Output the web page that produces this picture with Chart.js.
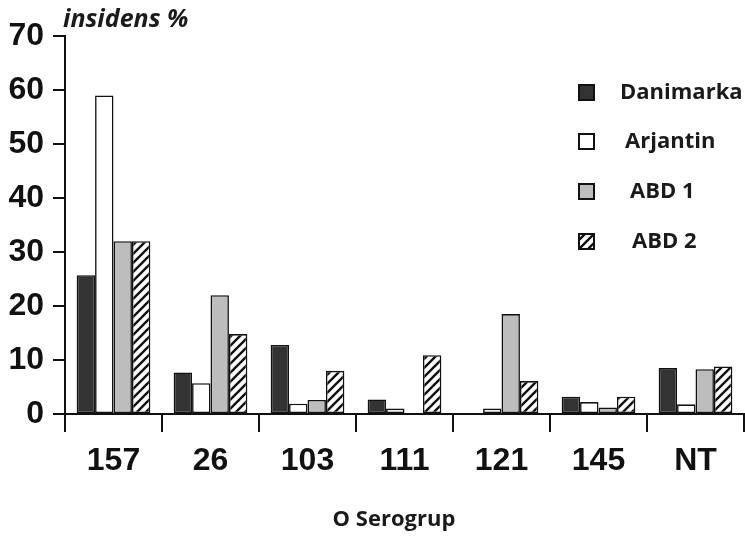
<!DOCTYPE html>
<html>
<head>
<meta charset="utf-8">
<script src="https://cdn.jsdelivr.net/npm/chart.js@4.4.1/dist/chart.umd.min.js"></script>
<style>
  html, body { margin: 0; padding: 0; background: #fff; }
  #wrap { width: 745px; height: 537px; position: relative; }
</style>
</head>
<body>
<div id="wrap"><canvas id="c" width="745" height="537"></canvas></div>
<script>
const categories = ["157", "26", "103", "111", "121", "145", "NT"];
const seriesNames = ["Danimarka", "Arjantin", "ABD 1", "ABD 2"];
const danimarka = [25.7, 7.7, 12.8, 2.7, 0, 3.2, 8.5];
const arjantin  = [59, 5.7, 1.9, 1.0, 1.0, 2.2, 1.8];
const abd1      = [32, 22, 2.6, 0, 18.5, 1.2, 8.3];
const abd2      = [32, 14.8, 8.0, 10.9, 6.1, 3.2, 8.8];
const yTicks    = [0, 10, 20, 30, 40, 50, 60, 70];
const yTitle = "insidens %";
const xTitle = "O Serogrup";

function hatch() {
  const s = 9;
  const p = document.createElement('canvas');
  p.width = s; p.height = s;
  const g = p.getContext('2d');
  g.fillStyle = '#fff'; g.fillRect(0, 0, s, s);
  g.strokeStyle = '#111'; g.lineWidth = 2.4;
  g.beginPath();
  g.moveTo(-2, s + 2); g.lineTo(s + 2, -2);
  g.moveTo(-2, 2); g.lineTo(2, -2);
  g.moveTo(s - 2, s + 2); g.lineTo(s + 2, s - 2);
  g.stroke();
  return g.createPattern(p, 'repeat');
}
const ctx = document.getElementById('c').getContext('2d');
const fills = ['#333333', '#ffffff', '#bdbdbd', hatch()];
const values = [danimarka, arjantin, abd1, abd2];

const legendPlugin = {
  id: 'manualLegend',
  afterDraw(chart) {
    const c = chart.ctx;
    const ys = [93, 142, 192, 242];
    const tx = [620, 625, 630, 632];
    c.save();
    chart.data.datasets.forEach((ds, i) => {
      c.fillStyle = ds.backgroundColor;
      c.fillRect(579, ys[i] - 8, 15, 15);
      c.strokeStyle = '#111'; c.lineWidth = 2;
      c.strokeRect(579, ys[i] - 8, 15, 15);
      c.fillStyle = '#1a1a1a';
      c.font = 'bold 22px "Open Sans"';
      c.textBaseline = 'middle';
      c.textAlign = 'left';
      c.fillText(ds.label, tx[i], ys[i]);
    });
    // y title
    c.font = 'italic bold 25px "Open Sans"';
    c.textBaseline = 'alphabetic';
    c.fillStyle = '#1a1a1a';
    c.fillText(yTitle, 63, 27);
    // x title
    c.font = 'bold 22px "Open Sans"';
    c.textAlign = 'center';
    c.textBaseline = 'middle';
    c.fillText(xTitle, 394, 520);
    c.restore();
  }
};

new Chart(ctx, {
  type: 'bar',
  data: {
    labels: categories,
    datasets: seriesNames.map((n, i) => ({
      label: n,
      data: values[i],
      backgroundColor: fills[i],
      borderColor: '#111',
      borderWidth: 1.6,
      borderSkipped: false,
      categoryPercentage: 0.76,
      barPercentage: 1.0
    }))
  },
  options: {
    responsive: false,
    animation: false,
    layout: { padding: { top: 36, right: 1, left: 0, bottom: 0 } },
    plugins: { legend: { display: false }, tooltip: { enabled: false } },
    scales: {
      x: {
        grid: { drawOnChartArea: false, color: '#111', lineWidth: 2, tickLength: 18, offset: true },
        border: { color: '#111', width: 2 },
        ticks: { color: '#111', font: { family: 'Liberation Sans', weight: 'bold', size: 32 }, padding: 10, maxRotation: 0 },
        title: { display: false },
        afterFit(s) { s.height = 123; }
      },
      y: {
        min: 0, max: 70,
        afterBuildTicks(s) { s.ticks = yTicks.map(v => ({ value: v })); },
        grid: { drawOnChartArea: false, color: '#111', lineWidth: 2, tickLength: 12 },
        border: { color: '#111', width: 2 },
        ticks: { color: '#111', font: { family: 'Liberation Sans', weight: 'bold', size: 32 }, padding: 9 },
        afterFit(s) { s.width = 65; }
      }
    }
  },
  plugins: [legendPlugin]
});
</script>
</body>
</html>
